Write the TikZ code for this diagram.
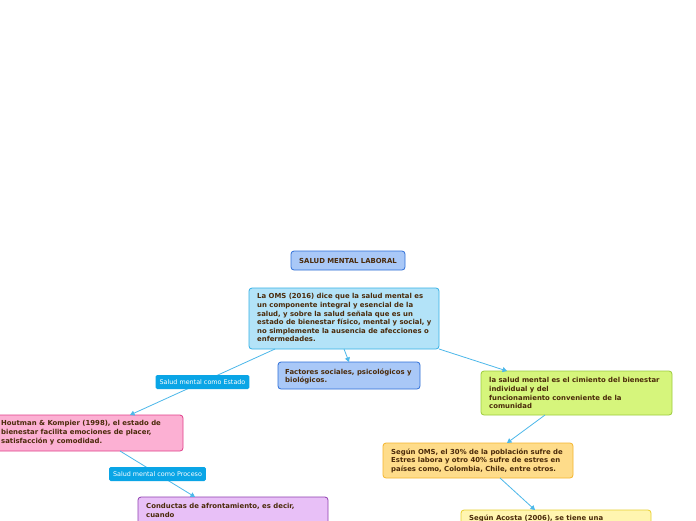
\documentclass[tikz,border=0pt]{standalone}
\usepackage{fontspec}
\setmainfont{DejaVu Sans}
\usetikzlibrary{arrows.meta,positioning}
\definecolor{txt}{HTML}{4A2A0A}
\definecolor{conn}{HTML}{4CB8EA}
\definecolor{lblfill}{HTML}{0AA5E6}
\definecolor{bluefill}{HTML}{A9C8F7}
\definecolor{blueline}{HTML}{2F6FD8}
\definecolor{cyanfill}{HTML}{B3E3F8}
\definecolor{cyanline}{HTML}{35B0E6}
\definecolor{greenfill}{HTML}{D6F57C}
\definecolor{greenline}{HTML}{9CCC3C}
\definecolor{pinkfill}{HTML}{FCB0D3}
\definecolor{pinkline}{HTML}{E0408A}
\definecolor{orangefill}{HTML}{FEDC8A}
\definecolor{orangeline}{HTML}{F5B52E}
\definecolor{purplefill}{HTML}{E8C0F7}
\definecolor{purpleline}{HTML}{9040B0}
\definecolor{yellowfill}{HTML}{FFF5B0}
\definecolor{yellowline}{HTML}{E8D030}
\tikzset{
  box/.style={draw, rounded corners=3pt, line width=0.8pt, anchor=north west,
    align=left, text=txt, font=\fontsize{6.9}{8.6}\selectfont\bfseries,
    inner xsep=0pt, inner ysep=0pt, outer sep=0pt},
  btxt/.style={anchor=north west, inner sep=0pt, align=left, text=txt,
    font=\fontsize{6.9}{8.6}\selectfont\bfseries},
  lbl/.style={fill=lblfill, text=white, rounded corners=1.5pt,
    font=\fontsize{6.4}{7}\selectfont, inner xsep=4pt, inner ysep=0pt,
    minimum height=14pt},
  conn/.style={draw=conn, line width=0.8pt, -{Triangle[length=4.5pt,width=5pt]}}
}
\begin{document}
\begin{tikzpicture}[x=1pt,y=-1pt]
\useasboundingbox (0,0) rectangle (696,520);
\clip (0,0) rectangle (696,520);
\fill[white] (0,0) rectangle (696,520);

% title
\node[box, draw=blueline, fill=bluefill, minimum width=114pt, minimum height=19pt, align=center, text width=114pt] (title) at (291,251) {SALUD MENTAL LABORAL};

% OMS
\node[box, draw=cyanline, fill=cyanfill, minimum width=190pt, minimum height=61pt] (oms) at (249,288) {};
\node[btxt] (omst) at (257,293.5) {La OMS (2016) dice que la salud mental es\\un componente integral y esencial de la\\salud, y sobre la salud señala que es un\\estado de bienestar físico, mental y social, y\\no simplemente la ausencia de afecciones o\\enfermedades.};

% Factores
\node[box, draw=blueline, fill=bluefill, minimum width=142pt, minimum height=27pt] (fac) at (278,362) {};
\node[btxt] (fact) at (285,368.5) {Factores sociales, psicológicos y\\biológicos.};

% Green
\node[box, draw=greenline, fill=greenfill, minimum width=191pt, minimum height=44pt] (grn) at (481,371) {};
\node[btxt] (grnt) at (489,377.5) {la salud mental es el cimiento del bienestar\\individual y del\\funcionamiento conveniente de la\\comunidad};

% Pink
\node[box, draw=pinkline, fill=pinkfill, minimum width=190pt, minimum height=36pt] (pink) at (-7,415) {};
\node[btxt] (pinkt) at (1,420.5) {Houtman \& Kompier (1998), el estado de\\bienestar facilita emociones de placer,\\satisfacción y comodidad.};

% Orange
\node[box, draw=orangeline, fill=orangefill, minimum width=190pt, minimum height=35pt] (org) at (383,443) {};
\node[btxt] (orgt) at (391,448.5) {Según OMS, el 30\% de la población sufre de\\Estres labora y otro 40\% sufre de estres en\\países como, Colombia, Chile, entre otros.};

% Purple
\node[box, draw=purpleline, fill=purplefill, minimum width=190pt, minimum height=40pt] (pur) at (138,497) {};
\node[btxt] (purt) at (146,503.5) {Conductas de afrontamiento, es decir,\\cuando};

% Yellow
\node[box, draw=yellowline, fill=yellowfill, minimum width=190pt, minimum height=40pt] (yel) at (461,510) {};
\node[btxt] (yelt) at (469,514.5) {Según Acosta (2006), se tiene una};

% connectors
\coordinate (a1) at ([xshift=26pt]oms.south west);
\coordinate (a2) at ([xshift=-53pt]pink.north east);
\draw[conn] (a1) -- node[lbl] {Salud mental como Estado} (a2);

\draw[conn] (oms.south) -- (fac.north);

\coordinate (b1) at (oms.south east);
\coordinate (b2) at ([xshift=26pt]grn.north west);
\draw[conn] (b1) -- (b2);

\coordinate (c1) at ([xshift=-63pt]pink.south east);
\coordinate (c2) at ([xshift=57pt]pur.north west);
\draw[conn] (c1) -- node[lbl] {Salud mental como Proceso} (c2);

\coordinate (d1) at ([xshift=64pt]grn.south west);
\coordinate (d2) at ([xshift=124pt]org.north west);
\draw[conn] (d1) -- (d2);

\coordinate (e1) at ([xshift=117pt]org.south west);
\coordinate (e2) at ([xshift=74pt]yel.north west);
\draw[conn] (e1) -- (e2);
\end{tikzpicture}
\end{document}
